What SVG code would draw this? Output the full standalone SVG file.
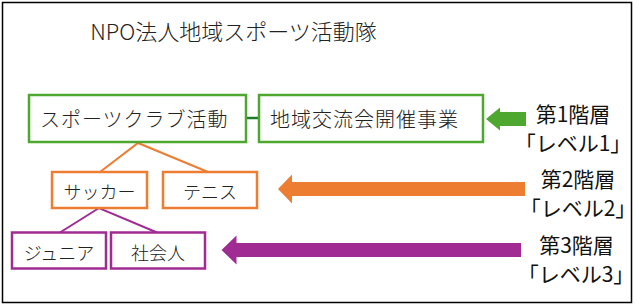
<svg xmlns="http://www.w3.org/2000/svg" width="637" height="306" viewBox="0 0 637 306">
<style>
text{font-family:"Noto Sans CJK JP","Noto Sans",sans-serif;font-weight:300;fill:#222;dominant-baseline:central}
.t20{font-size:20px;letter-spacing:1px}
.t18{font-size:18px;text-anchor:middle}
.lv{font-size:21px;text-anchor:middle;fill:#111;font-weight:400}
.g{fill:#fff;stroke:#4ea72e;stroke-width:2.5}
.o{fill:#fff;stroke:#ed7d31;stroke-width:2.5}
.p{fill:#fff;stroke:#a02b93;stroke-width:2.5}
</style>
<rect x="2.5" y="2.5" width="629" height="300" fill="#fff" stroke="#000" stroke-width="1.5"/>
<text id="title" x="233.5" y="30" style="font-size:22px;text-anchor:middle">NPO法人地域スポーツ活動隊</text>
<g id="connectors" fill="none">
<line x1="246" y1="118" x2="259" y2="118" stroke="#1f7a2a" stroke-width="2.5"/>
<polyline points="100,172 138,143 208,172" stroke="#ed7d31" stroke-width="2"/>
<polyline points="60,232.5 99,208 157,232.5" stroke="#a02b93" stroke-width="2"/>
</g>
<g id="n-club"><rect class="g" x="29" y="95" width="217" height="47"/><text class="t20" x="40" y="118">スポーツクラブ活動</text></g>
<g id="n-event"><rect class="g" x="259" y="95" width="224" height="47"/><text class="t20" x="270" y="118">地域交流会開催事業</text></g>
<g id="n-soccer"><rect class="o" x="52" y="172" width="95" height="36"/><text class="t18" x="99.5" y="191">サッカー</text></g>
<g id="n-tennis"><rect class="o" x="163" y="172" width="94" height="36"/><text class="t18" x="210" y="191">テニス</text></g>
<g id="n-junior"><rect class="p" x="12" y="232.5" width="94" height="36"/><text class="t18" x="59" y="251.5">ジュニア</text></g>
<g id="n-adult"><rect class="p" x="111" y="232.5" width="94" height="36"/><text class="t18" x="158" y="251.5">社会人</text></g>
<g id="arrows">
<polygon fill="#4ea72e" points="486,119 500,107.5 500,112 526,112 526,126 500,126 500,130.5"/>
<polygon fill="#ed7d31" points="278,189 292,174.5 292,182 525,182 525,196 292,196 292,203.5"/>
<polygon fill="#a02b93" points="221.5,250 236.5,235.5 236.5,243 521,243 521,257 236.5,257 236.5,264.5"/>
</g>
<g id="level1"><text class="lv" x="573" y="113">第1階層</text><text class="lv" x="573" y="141.5">「レベル1」</text></g>
<g id="level2"><text class="lv" x="578" y="178">第2階層</text><text class="lv" x="578" y="207">「レベル2」</text></g>
<g id="level3"><text class="lv" x="576.5" y="244">第3階層</text><text class="lv" x="576" y="273">「レベル3」</text></g>
</svg>
